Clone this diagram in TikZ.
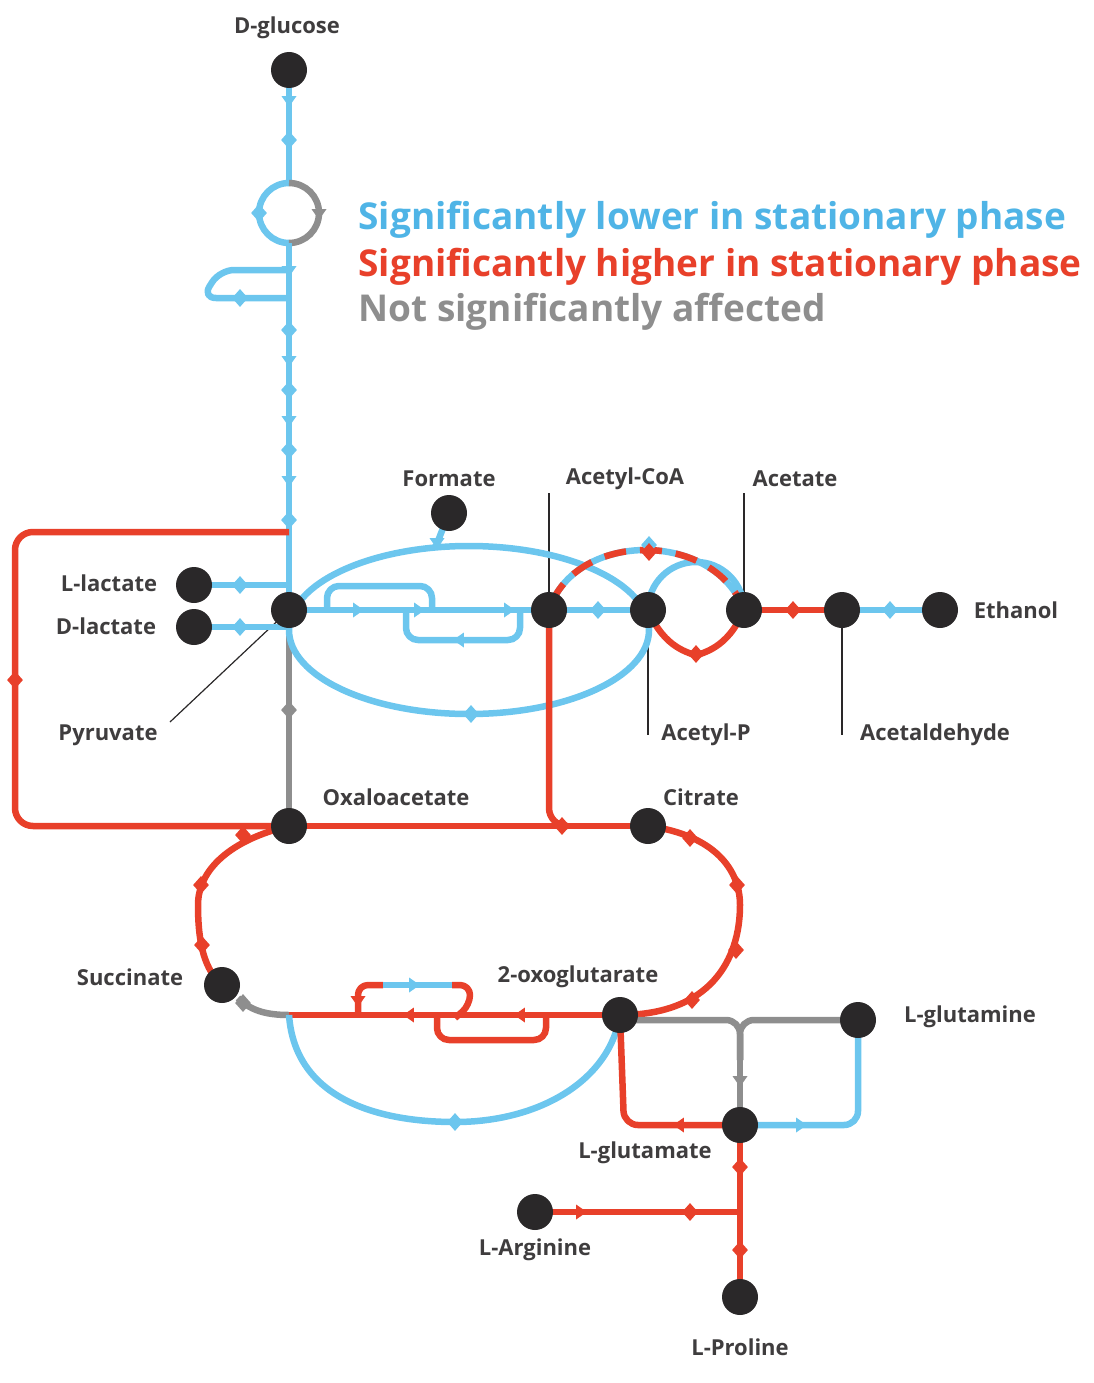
\documentclass[tikz,border=0pt]{standalone}
\usepackage{fontspec}
\setmainfont{Open Sans}
\usetikzlibrary{shapes.geometric}
\definecolor{cb}{HTML}{6CC6EE}
\definecolor{cr}{HTML}{E8402A}
\definecolor{cg}{HTML}{8E8E8E}
\definecolor{cn}{HTML}{2A2829}
\definecolor{lbb}{HTML}{4FB4E6}
\pgfdeclarelayer{bg}\pgfsetlayers{bg,main}
\begin{document}
\begin{tikzpicture}[x=1pt,y=-1pt,
 pt/.style={circle,fill=cn,minimum size=36pt,inner sep=0},
 lb/.style={font=\bfseries\fontsize{22}{26}\selectfont,text=cn!90!white},
 ln/.style={line width=6.5pt,line join=round},
 B/.style={ln,draw=cb},R/.style={ln,draw=cr},G/.style={ln,draw=cg},
 thin/.style={draw=cn,line width=1.2pt},
 mk/.style={diamond,fill=#1,inner sep=0,minimum width=16pt,minimum height=18pt},
 ar/.style args={#1/#2}{isosceles triangle,isosceles triangle apex angle=70,fill=#1,shape border rotate=#2,inner sep=0,minimum height=10pt,minimum width=15pt}]
\useasboundingbox (0,0) rectangle (1093,1383);
% nodes
\node[pt] (glc) at (289,70) {};
\node[pt] (pyr) at (289,610) {};
\node[pt] (llac) at (194,585) {};
\node[pt] (dlac) at (194,627) {};
\node[pt] (for) at (449,513) {};
\node[pt] (acoa) at (549,610) {};
\node[pt] (acp) at (648,610) {};
\node[pt] (ace) at (744,610) {};
\node[pt] (ald) at (842,610) {};
\node[pt] (eth) at (940,610) {};
\node[pt] (oaa) at (289,826) {};
\node[pt] (cit) at (648,826) {};
\node[pt] (suc) at (222,985) {};
\node[pt] (oxo) at (620,1015) {};
\node[pt] (gln) at (858,1020) {};
\node[pt] (glu) at (740,1125) {};
\node[pt] (arg) at (535,1212) {};
\node[pt] (pro) at (740,1297) {};
\coordinate (jp) at (289,532);
\coordinate (jo) at (289,1015);
\coordinate (ja) at (740,1212);
% labels
\node[lb] at (109,583) {L-lactate};
\node[lb] at (106,626) {D-lactate};
\node[lb] (lpyr) at (108,735) {Pyruvate};
\node[lb] at (449,479) {Formate};
\node[lb] at (625,479) {Acetyl-CoA};
\node[lb] at (795,479) {Acetate};
\node[lb] at (1016,610) {Ethanol};
\node[lb] at (706,735) {Acetyl-P};
\node[lb] at (935,735) {Acetaldehyde};
\node[lb] at (396,797) {Oxaloacetate};
\node[lb] at (701,797) {Citrate};
\node[lb] at (130,977) {Succinate};
\node[lb] at (578,977) {2-oxoglutarate};
\node[lb] at (970,1017) {L-glutamine};
\node[lb] at (645,1153) {L-glutamate};
\node[lb] at (535,1250) {L-Arginine};
\node[lb] at (740,1347) {L-Proline};
\node[lb] at (287,28) {D-glucose};
\begin{scope}[font=\bfseries\fontsize{37}{42}\selectfont]
\node[anchor=west,text=lbb] at (355,220) {Significantly lower in stationary phase};
\node[anchor=west,text=cr] at (355,267) {Significantly higher in stationary phase};
\node[anchor=west,text=cg] at (355,312) {Not significantly affected};
\end{scope}
\begin{pgfonlayer}{bg}
% leader lines
\draw[thin] (170,722) -- (pyr.center);
\draw[thin] (acoa.center) -- (549,493);
\draw[thin] (ace.center) -- (744,493);
\draw[thin] (acp.center) -- (648,735);
\draw[thin] (ald.center) -- (842,735);
% glycolysis
\draw[B] (glc.center) -- (289,183);
\draw[B] (289,183) arc[start angle=270,end angle=90,radius=30];
\draw[G] (289,183) arc[start angle=-90,end angle=90,radius=30];
\draw[B] (289,243) -- (pyr.center);
\draw[B,rounded corners=14pt] (289,270) -- (220,270) -- (202,298) -- (289,298);
\draw[B] (llac.center) -- (llac.center -| pyr.center);
\draw[B] (dlac.center) -- (dlac.center -| pyr.center);
% red loop pyruvate-oxaloacetate
\draw[R,rounded corners=18pt] (jp) -- (15,532) -- (15,826) -- (oaa.center);
\draw[G] (pyr.center) -- (oaa.center);
% ellipse
\draw[B] (469,630) ellipse[x radius=180,y radius=84];
\draw[B] (for.center) -- (436,546);
\draw[B] (pyr.center) -- (acoa.center);
\draw[B,rounded corners=12pt] (327,610) -- (327,586) -- (432,586) -- (432,610);
\draw[B,rounded corners=12pt] (406,610) -- (406,640) -- (520,640) -- (520,610);
% acetyl
\draw[B] (acoa.center) -- (acp.center);
\draw[B] (acp.center) arc[start angle=180,end angle=360,radius=48];
\draw[R] (acp.center) .. controls (665,650) and (690,652) .. (696,656) .. controls (702,652) and (727,650) .. (ace.center);
\draw[B] (acoa.center) .. controls (575,530) and (715,530) .. (ace.center);
\draw[R,dash pattern=on 22pt off 14pt,dash phase=-8pt] (acoa.center) .. controls (575,530) and (715,530) .. (ace.center);
\draw[R] (ace.center) -- (ald.center);
\draw[B] (ald.center) -- (eth.center);
% TCA
\draw[R,rounded corners=18pt] (acoa.center) -- (549,826) -- (560,826);
\draw[R] (oaa.center) -- (cit.center);
\draw[R] (cit.center) .. controls (715,835) and (740,870) .. (740,905) .. controls (740,960) and (710,1015) .. (oxo.center);
\draw[R] (oaa.center) .. controls (230,840) and (198,870) .. (198,905) .. controls (198,945) and (205,970) .. (suc.center);
\draw[G] (jo) .. controls (265,1015) and (250,1010) .. (238,998);
\draw[R] (jo) -- (oxo.center);
\draw[B] (jo) .. controls (295,1100) and (380,1122) .. (455,1122) .. controls (540,1122) and (610,1080) .. (oxo.center);
\draw[R,rounded corners=10pt] (383,985) -- (358,985) -- (358,1015);
\draw[B] (383,985) -- (452,985);
\draw[R,rounded corners=10pt] (452,985) -- (470,985) -- (470,1005) -- (455,1018);
\draw[R,rounded corners=12pt] (437,1015) -- (437,1040) -- (546,1040) -- (546,1015);
% glutamate
\draw[G,rounded corners=14pt] (oxo.center) -- (620,1020) -- (740,1020) -- (740,1060);
\draw[G,rounded corners=14pt] (gln.center) -- (740,1020) -- (740,1060);
\draw[G] (740,1060) -- (glu.center);
\draw[R,rounded corners=14pt] (oxo.center) -- (624,1125) -- (glu.center);
\draw[B,rounded corners=14pt] (gln.center) -- (858,1125) -- (glu.center);
\draw[R] (glu.center) -- (pro.center);
\draw[R] (arg.center) -- (ja);
\end{pgfonlayer}
% markers
\foreach \y in {140,330,390,450,520} \node[mk=cb] at (289,\y) {};
\foreach \y in {100,270,360,420,480} \node[ar=cb/-90] at (289,\y) {};
\node[mk=cb] at (259,213) {};
\node[ar=cg/-90] at (319,213) {};
\node[mk=cb] at (240,298) {};
\node[mk=cb] at (240,585) {};
\node[mk=cb] at (240,627) {};
\node[mk=cr] at (15,680) {};
\node[mk=cg] at (289,710) {};
\node[mk=cb] at (471,714) {};
\node[ar=cb/-120] at (437,542) {};
\node[ar=cb/0] at (357,610) {};
\node[ar=cb/0] at (418,610) {};
\node[ar=cb/0] at (508,610) {};
\node[ar=cb/180] at (460,640) {};
\node[mk=cb] at (598,610) {};
\node[mk=cb] at (649,545) {};
\node[mk=cr] at (649,552) {};
\node[mk=cr] at (696,654) {};
\node[mk=cr] at (793,610) {};
\node[mk=cb] at (890,610) {};
\node[mk=cr] at (562,826) {};
\node[mk=cr] at (690,838) {};
\node[mk=cr] at (737,885) {};
\node[mk=cr] at (736,950) {};
\node[mk=cr] at (692,1000) {};
\node[mk=cr] at (243,835) {};
\node[mk=cr] at (201,885) {};
\node[mk=cr] at (202,945) {};
\node[mk=cg] at (243,1003) {};
\node[ar=cb/0] at (413,985) {};
\node[ar=cr/180] at (410,1015) {};
\node[ar=cr/180] at (521,1015) {};
\node[ar=cr/-90] at (358,1000) {};
\node[mk=cb] at (455,1122) {};
\node[ar=cg/-90] at (740,1080) {};
\node[ar=cr/180] at (680,1125) {};
\node[ar=cb/0] at (800,1125) {};
\node[mk=cr] at (740,1167) {};
\node[mk=cr] at (740,1250) {};
\node[ar=cr/0] at (580,1212) {};
\node[mk=cr] at (690,1212) {};
\end{tikzpicture}
\end{document}
